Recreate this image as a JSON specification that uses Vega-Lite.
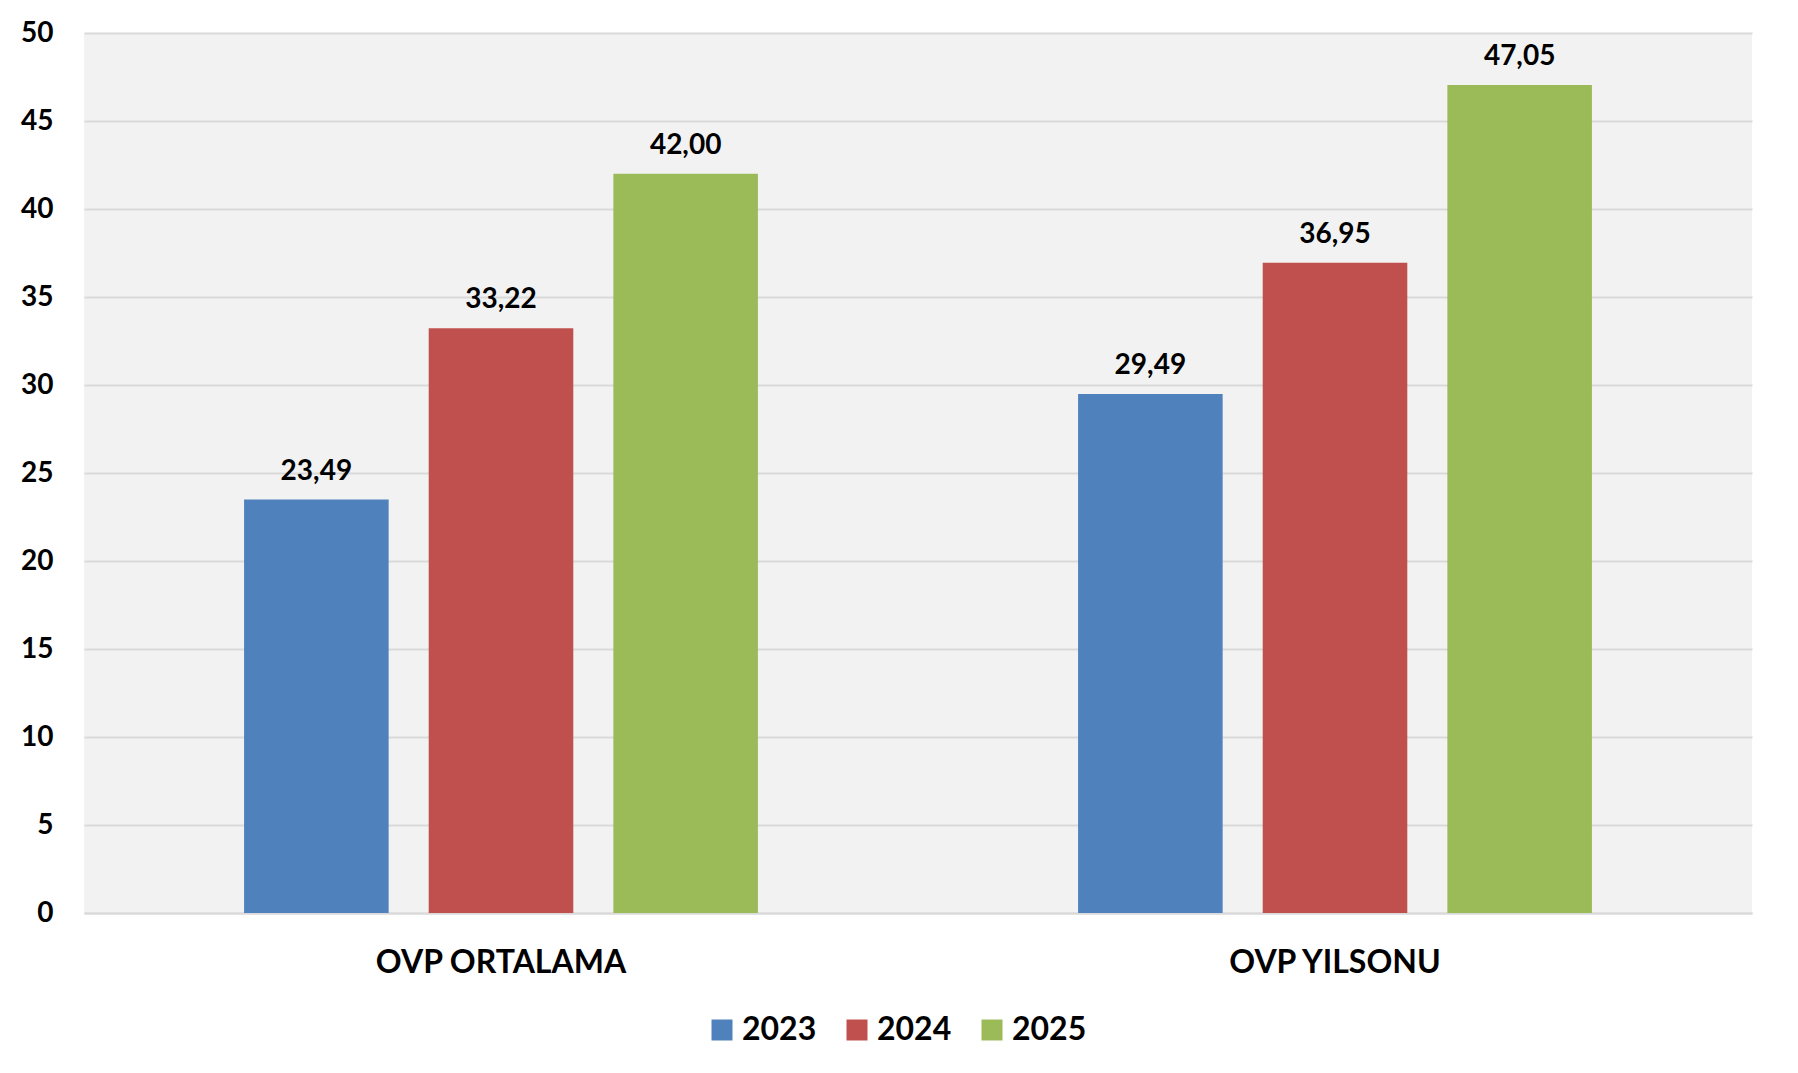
{
  "$schema": "https://vega.github.io/schema/vega-lite/v6.json",
  "width": 1668,
  "height": 880,
  "autosize": {"type": "none"},
  "padding": {"left": 84, "top": 33, "right": 46, "bottom": 160},
  "background": "white",
  "config": {
    "locale": {"number": {"decimal": ",", "thousands": ".", "grouping": [3], "currency": ["", ""]}},
    "view": {"fill": "#f2f2f2", "stroke": null},
    "font": "Lato"
  },
  "data": {
    "values": [
      {"kategori": "OVP ORTALAMA", "yil": "2023", "deger": 23.49},
      {"kategori": "OVP ORTALAMA", "yil": "2024", "deger": 33.22},
      {"kategori": "OVP ORTALAMA", "yil": "2025", "deger": 42.00},
      {"kategori": "OVP YILSONU", "yil": "2023", "deger": 29.49},
      {"kategori": "OVP YILSONU", "yil": "2024", "deger": 36.95},
      {"kategori": "OVP YILSONU", "yil": "2025", "deger": 47.05}
    ]
  },
  "encoding": {
    "x": {
      "field": "kategori", "type": "nominal", "title": null,
      "scale": {"paddingInner": 0, "paddingOuter": 0},
      "axis": {
        "labelAngle": 0, "labelFont": "Lato", "labelFontSize": 32, "labelFontWeight": "bold",
        "labelColor": "black", "labelPadding": 34, "labelLimit": 0, "ticks": false, "tickSize": 0,
        "domainColor": "#d9d9d9", "domainWidth": 2, "grid": false
      }
    },
    "xOffset": {
      "field": "yil", "type": "nominal",
      "scale": {"paddingInner": 0.217, "paddingOuter": 0.867}
    },
    "y": {
      "field": "deger", "type": "quantitative", "title": null,
      "scale": {"domain": [0, 50], "nice": false},
      "axis": {
        "values": [0, 5, 10, 15, 20, 25, 30, 35, 40, 45, 50],
        "labelFont": "Lato", "labelFontSize": 28, "labelFontWeight": "bold",
        "labelColor": "black", "labelPadding": 31, "ticks": false, "tickSize": 0,
        "domain": false, "grid": true, "gridColor": "#d9d9d9", "gridWidth": 2
      }
    }
  },
  "layer": [
    {
      "mark": {"type": "bar"},
      "encoding": {
        "color": {
          "field": "yil", "type": "nominal", "title": null,
          "scale": {"domain": ["2023", "2024", "2025"], "range": ["#4f81bd", "#c0504d", "#9bbb59"]},
          "legend": {
            "orient": "none", "direction": "horizontal", "legendX": 622, "legendY": 981,
            "padding": 0, "symbolType": "square", "symbolSize": 441, "symbolStrokeWidth": 0,
            "labelFont": "Lato", "labelFontSize": 32, "labelFontWeight": "bold", "labelColor": "black",
            "labelOffset": 4, "columnPadding": 24
          }
        }
      }
    },
    {
      "mark": {"type": "text", "font": "Lato", "fontSize": 28, "fontWeight": "bold", "color": "black", "baseline": "alphabetic", "dy": -20},
      "encoding": {
        "text": {"field": "deger", "type": "quantitative", "format": ".2f"}
      }
    }
  ]
}
